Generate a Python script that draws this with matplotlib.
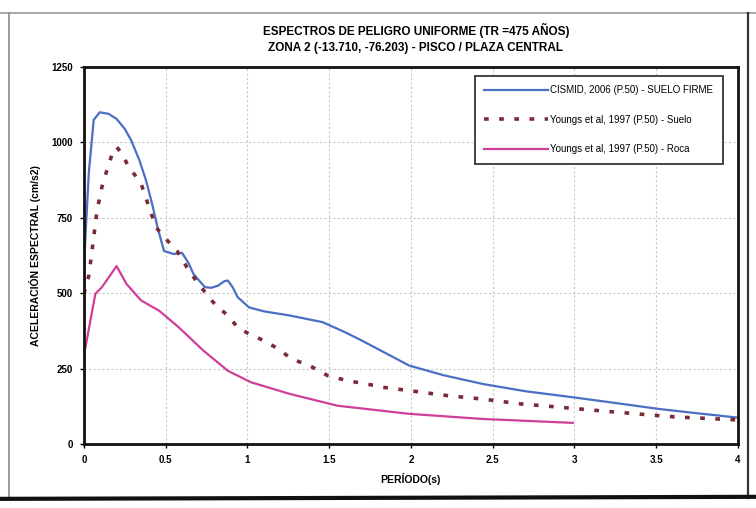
import matplotlib
matplotlib.use("Agg")
import matplotlib.pyplot as plt
from matplotlib.lines import Line2D

plt.rcParams['font.family'] = ['Liberation Sans Narrow', 'Liberation Sans', 'DejaVu Sans']

# Spectral acceleration (cm/s2) vs period (s)
cismid_t = [0.0, 0.03, 0.06, 0.097, 0.15, 0.2, 0.25, 0.29, 0.34, 0.38, 0.42, 0.45, 0.49, 0.55,
            0.6, 0.64, 0.67, 0.74, 0.78, 0.82, 0.86, 0.88, 0.91, 0.94, 1.01, 1.1, 1.26, 1.46,
            1.6, 1.7, 1.85, 1.99, 2.2, 2.44, 2.7, 2.99, 3.25, 3.52, 3.75, 3.99]
cismid_sa = [590, 900, 1075, 1100, 1095, 1078, 1045, 1006, 940, 874, 790, 719, 640, 630,
             634, 600, 564, 520, 518, 525, 540, 542, 520, 487, 453, 440, 426, 404,
             370, 343, 300, 260, 228, 199, 175, 155, 136, 116, 102, 88]

suelo_t = [0.0, 0.03, 0.06, 0.08, 0.11, 0.14, 0.17, 0.2, 0.23, 0.27, 0.35, 0.44, 0.51, 0.57,
           0.63, 0.7, 0.8, 0.88, 0.94, 1.01, 1.1, 1.19, 1.27, 1.38, 1.49, 1.61, 1.73, 1.83,
           1.99, 2.23, 2.44, 2.67, 2.91, 3.14, 3.38, 3.61, 3.99]
suelo_sa = [498, 558, 686, 774, 852, 907, 957, 985, 965, 923, 863, 719, 675, 640,
            586, 531, 464, 426, 387, 365, 343, 315, 282, 260, 227, 210, 199, 188,
            177, 160, 149, 133, 122, 111, 100, 90, 80]

roca_t = [0.0, 0.07, 0.11, 0.2, 0.26, 0.35, 0.46, 0.58, 0.73, 0.88, 1.02, 1.26, 1.55,
          1.99, 2.44, 2.99]
roca_sa = [293, 498, 520, 590, 531, 476, 442, 387, 310, 243, 205, 166, 127,
           100, 83, 70]

x_ticks = [0, 0.5, 1, 1.5, 2, 2.5, 3, 3.5, 4]
x_tick_labels = ['0', '0.5', '1', '1.5', '2', '2.5', '3', '3.5', '4']
y_ticks = [0, 250, 500, 750, 1000, 1250]

labels = ['CISMID, 2006 (P.50) - SUELO FIRME',
          'Youngs et al, 1997 (P.50) - Suelo',
          'Youngs et al, 1997 (P.50) - Roca']

c_blue = '#4a6fc4'
c_red = '#7b2b33'
c_mag = '#cf3f9a'

fig = plt.figure(figsize=(7.56, 5.08), dpi=100)
fig.patch.set_facecolor('white')

# page frame around the chart
fig.add_artist(Line2D([0, 1], [0.975, 0.975], transform=fig.transFigure, color='#9a9a9a', lw=1.2))
fig.add_artist(Line2D([0.012, 0.012], [0.02, 0.975], transform=fig.transFigure, color='#8a8a8a', lw=1.2))
fig.add_artist(Line2D([0.99, 0.99], [0.02, 0.975], transform=fig.transFigure, color='#333333', lw=1.6))
fig.add_artist(Line2D([0, 1], [0.018, 0.022], transform=fig.transFigure, color='#111111', lw=3))

ax = fig.add_axes([0.111, 0.126, 0.865, 0.742])
ax.plot(cismid_t, cismid_sa, color=c_blue, lw=1.6, label=labels[0])
ax.plot(suelo_t, suelo_sa, color=c_red, lw=2.6, linestyle=(0, (1.3, 2.9)), label=labels[1])
ax.plot(roca_t, roca_sa, color=c_mag, lw=1.6, label=labels[2])

ax.set_xlim(0, 4)
ax.set_ylim(0, 1250)
ax.set_xticks(x_ticks)
ax.set_xticklabels(x_tick_labels)
ax.set_yticks(y_ticks)
ax.grid(True, color='#c8c8c8', linestyle=(0, (2, 2)), lw=0.8)
ax.set_axisbelow(True)
for s in ax.spines.values():
    s.set_linewidth(2.0)
    s.set_color('#111111')
ax.tick_params(axis='both', labelsize=7, length=3, width=1, pad=5)
for t in ax.get_xticklabels() + ax.get_yticklabels():
    t.set_fontweight('bold')

ax.set_xlabel('PERÍODO(s)', fontsize=7.5, fontweight='bold', labelpad=6)
ax.set_ylabel('ACELERACIÓN ESPECTRAL (cm/s2)', fontsize=7.5, fontweight='bold', labelpad=7)

fig.text(0.55, 0.94, 'ESPECTROS DE PELIGRO UNIFORME (TR =475 AÑOS)', ha='center', va='center',
         fontsize=8.5, fontweight='bold')
fig.text(0.55, 0.905, 'ZONA 2 (-13.710, -76.203) - PISCO / PLAZA CENTRAL', ha='center', va='center',
         fontsize=8.5, fontweight='bold')

leg = ax.legend(loc='upper right', bbox_to_anchor=(0.985, 0.99), fontsize=7, handlelength=6.5,
                labelspacing=2.0, borderpad=1.0, handletextpad=0.3, fancybox=False,
                edgecolor='#444444', framealpha=1)
leg.get_frame().set_linewidth(1.4)

fig.savefig('out.png', dpi=100)
